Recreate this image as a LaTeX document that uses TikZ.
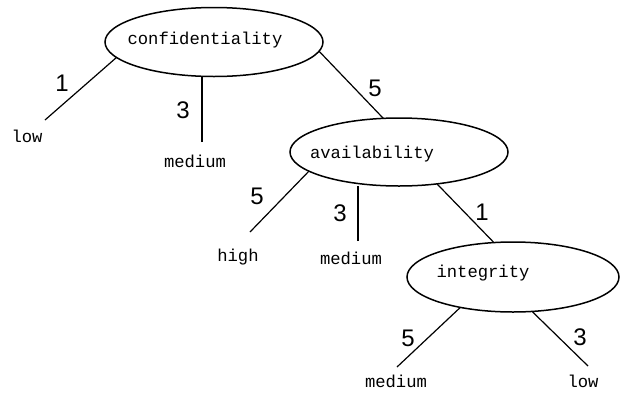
\documentclass[tikz,border=0pt]{standalone}
\usepackage{fontspec}
\setmonofont{Liberation Mono}
\newfontfamily\numfont{Liberation Sans}
\usetikzlibrary{shapes.geometric}
\begin{document}
\begin{tikzpicture}[x=1pt,y=-1pt,
  attr/.style={draw, line width=1.5pt, ellipse, outer sep=0pt, inner sep=0pt},
  txt/.style={font=\ttfamily\fontsize{17.2}{18}\selectfont, inner sep=0pt},
  num/.style={font=\numfont\fontsize{24}{25}\selectfont, inner sep=0pt},
  edge/.style={line width=1.2pt},
  vedge/.style={line width=1.6pt}]
\useasboundingbox (0,0) rectangle (622,392);
% attribute ellipses
\node[attr, minimum width=218pt, minimum height=69pt] (conf) at (214,42) {};
\node[txt] (conft) at (205,40) {confidentiality};
\node[attr, minimum width=218pt, minimum height=68pt] (avail) at (399,152) {};
\node[txt] (availt) at (372,154) {availability};
\node[attr, minimum width=212pt, minimum height=70pt] (integ) at (513,277) {};
\node[txt] (integt) at (483,273) {integrity};
% leaves
\node[txt] (low1) at (27,136) {low};
\node[txt] (med1) at (195,161) {medium};
\node[txt] (high2) at (238,257) {high};
\node[txt] (med2) at (351,258) {medium};
\node[txt] (med3) at (396,381) {medium};
\node[txt] (low3) at (583,381) {low};
% connector ends
\coordinate (e1) at (45,120);
\coordinate (e2) at (202,142);
\coordinate (e4) at (250,232);
\coordinate (e5) at (358,241);
\coordinate (e7) at (397,367);
\coordinate (e8) at (588,366);
% connectors
\draw[edge] (conf.189) -- (e1);
\draw[vedge] (e2) -- (e2 |- conf.south);
\draw[edge] (conf.-5) -- (avail.115);
\draw[edge] (avail.192) -- (e4);
\draw[vedge] (e5) -- (e5 |- avail.south);
\draw[edge] (avail.-40) -- (integ.119);
\draw[edge] (integ.210) -- (e7);
\draw[edge] (integ.299) -- (e8);
% weights
\node[num] (w1) at (62,83) {1};
\node[num] (w2) at (183,110) {3};
\node[num] (w3) at (375,88) {5};
\node[num] (w4) at (257,196) {5};
\node[num] (w5) at (340,213) {3};
\node[num] (w6) at (482,212) {1};
\node[num] (w7) at (408,338) {5};
\node[num] (w8) at (580,337) {3};
\end{tikzpicture}
\end{document}
